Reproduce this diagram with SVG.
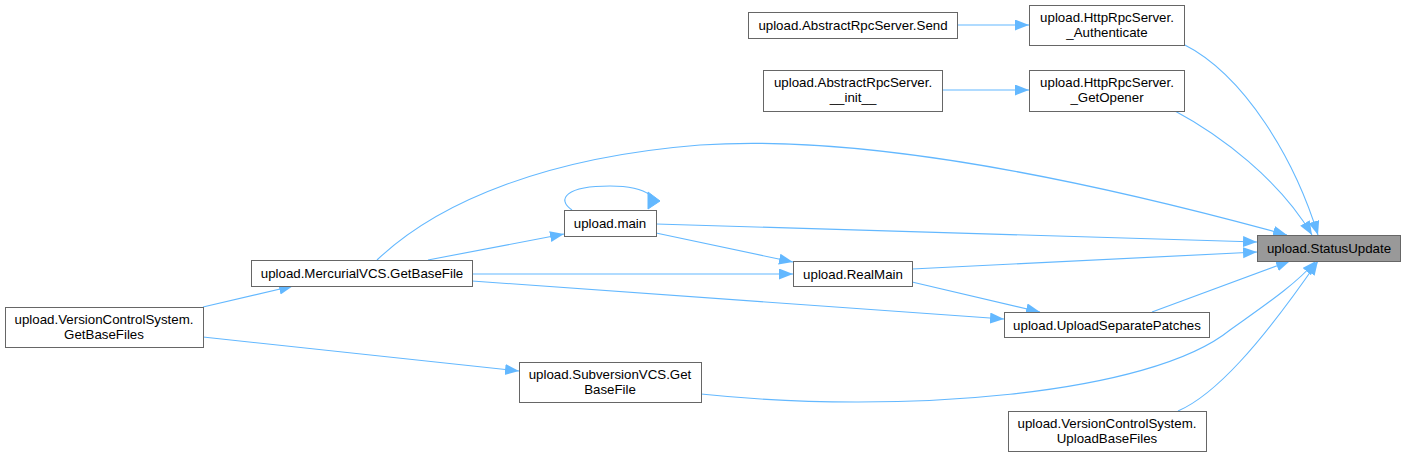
<svg xmlns="http://www.w3.org/2000/svg" width="1406" height="458" viewBox="0 0 1406 458">
<style>
.n rect{fill:#ffffff;stroke:#666666;stroke-width:1}
.n.root rect{fill:#999999}
.n text{font-family:"Liberation Sans",Helvetica,Arial,sans-serif;font-size:13.3px;fill:#000000;text-anchor:middle}
.e path{fill:none;stroke:#63b8ff;stroke-width:1.1}
.e polygon{fill:#63b8ff;stroke:#63b8ff;stroke-width:1}
</style>
<defs>
<marker id="ah" markerUnits="userSpaceOnUse" markerWidth="15" markerHeight="12" refX="14" refY="5.5" orient="auto" viewBox="0 0 15 12">
<path d="M0,0 L14,5.5 L0,11 Z" fill="#63b8ff"/>
</marker>
</defs>
<rect width="1406" height="458" fill="#ffffff"/>
<g id="edges" class="e">
<path d="M957,25 L1029,25" marker-end="url(#ah)"/>
<path d="M942,90 L1029,90" marker-end="url(#ah)"/>
<path d="M1183,44 C1245,75 1295,160 1318,235" marker-end="url(#ah)"/>
<path d="M1175,111 C1220,135 1280,180 1312,235" marker-end="url(#ah)"/>
<path d="M377,260 C440,200 550,157 700,145 C850,135 1050,170 1287,235" marker-end="url(#ah)"/>
<path d="M656,224 L1257,242" marker-end="url(#ah)"/>
<path d="M912,269 L1257,252" marker-end="url(#ah)"/>
<path d="M1152,312 L1290,261" marker-end="url(#ah)"/>
<path d="M701,394 C900,415 1150,395 1230,330 C1265,305 1295,285 1316,261" marker-end="url(#ah)"/>
<path d="M1178,411 C1215,395 1260,345 1318,261" marker-end="url(#ah)"/>
<path d="M572,210 C556,199 566,186 610,186 C630,186 642,189 650,195"/>
<polygon points="648,192 660,201 648,209"/>
<path d="M428,260 L564,234" marker-end="url(#ah)"/>
<path d="M656,233 L793,262" marker-end="url(#ah)"/>
<path d="M472,274 L793,274" marker-end="url(#ah)"/>
<path d="M472,281 L1004,319" marker-end="url(#ah)"/>
<path d="M912,282 L1040,312" marker-end="url(#ah)"/>
<path d="M203,307 L293,286" marker-end="url(#ah)"/>
<path d="M203,337 L519,371" marker-end="url(#ah)"/>
</g>
<g id="node-statusupdate" class="n root">
<rect x="1257.5" y="235.5" width="143" height="26"/>
<text x="1329" y="253">upload.StatusUpdate</text>
</g>
<g id="node-authenticate" class="n">
<rect x="1029.5" y="5.5" width="155" height="40"/>
<text x="1107" y="22">upload.HttpRpcServer.</text>
<text x="1107" y="37">_Authenticate</text>
</g>
<g id="node-getopener" class="n">
<rect x="1029.5" y="70.5" width="155" height="41"/>
<text x="1107" y="87">upload.HttpRpcServer.</text>
<text x="1107" y="102">_GetOpener</text>
</g>
<g id="node-send" class="n">
<rect x="748.5" y="12.5" width="209" height="26"/>
<text x="853" y="30">upload.AbstractRpcServer.Send</text>
</g>
<g id="node-init" class="n">
<rect x="763.5" y="70.5" width="179" height="41"/>
<text x="853" y="87">upload.AbstractRpcServer.</text>
<text x="853" y="102">__init__</text>
</g>
<g id="node-main" class="n">
<rect x="564.5" y="210.5" width="92" height="26"/>
<text x="610" y="228">upload.main</text>
</g>
<g id="node-mercurial-getbasefile" class="n">
<rect x="251.5" y="260.5" width="221" height="26"/>
<text x="362" y="278">upload.MercurialVCS.GetBaseFile</text>
</g>
<g id="node-getbasefiles" class="n">
<rect x="5.5" y="307.5" width="198" height="40"/>
<text x="104" y="324">upload.VersionControlSystem.</text>
<text x="104" y="339">GetBaseFiles</text>
</g>
<g id="node-realmain" class="n">
<rect x="793.5" y="261.5" width="119" height="25"/>
<text x="853" y="279">upload.RealMain</text>
</g>
<g id="node-uploadseparatepatches" class="n">
<rect x="1004.5" y="312.5" width="205" height="25"/>
<text x="1107" y="330">upload.UploadSeparatePatches</text>
</g>
<g id="node-subversion-getbasefile" class="n">
<rect x="519.5" y="362.5" width="182" height="40"/>
<text x="610" y="379">upload.SubversionVCS.Get</text>
<text x="610" y="394">BaseFile</text>
</g>
<g id="node-uploadbasefiles" class="n">
<rect x="1008.5" y="411.5" width="198" height="40"/>
<text x="1107" y="428">upload.VersionControlSystem.</text>
<text x="1107" y="443">UploadBaseFiles</text>
</g>
</svg>
